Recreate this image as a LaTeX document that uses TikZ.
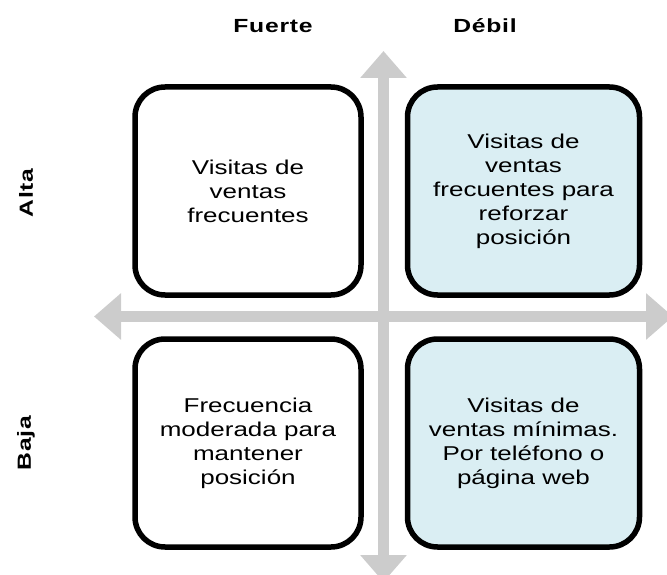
\documentclass[tikz,border=0pt]{standalone}
\usepackage{fontspec}
\setmainfont{Liberation Sans}[FakeStretch=1.3]
\usepackage{xcolor}
\usetikzlibrary{positioning,arrows.meta}
\definecolor{axisgray}{HTML}{CCCCCC}
\definecolor{quadblue}{HTML}{DAEEF3}

\begin{document}
\begin{tikzpicture}[
    x=1pt, y=-1pt,
    font=\fontsize{20}{24}\selectfont,
    quad/.style={
      draw=black, line width=5.5pt, rounded corners=30pt, align=center,
      minimum width=226pt, minimum height=208pt, inner sep=4pt
    },
    weak/.style={quad, fill=quadblue, minimum width=232pt},
    head/.style={font=\fontsize{19}{22}\selectfont\bfseries\addfontfeature{LetterSpace=4}},
    side/.style={head, rotate=90},
    axis/.style={axisgray, line width=11pt,
      {Triangle[length=27pt,width=45pt]}-{Triangle[length=27pt,width=45pt]}}
  ]
    \useasboundingbox (0,0) rectangle (667,575);
    % axes
    \coordinate (top) at (383.5,51);
    \coordinate (bottom) at (383.5,582);
    \coordinate (left) at (94,316.5);
    \coordinate (right) at (673,316.5);
    \draw[axis] (top) -- (bottom);
    \draw[axis] (left) -- (right);
    % quadrants
    \node[quad] (altafuerte) at (248,191) {Visitas de\\ventas\\frecuentes};
    \node[weak] (altadebil) at (523.5,191) {Visitas de\\ventas\\frecuentes para\\reforzar\\posición};
    \node[quad] (bajafuerte) at (248,443) {Frecuencia\\moderada para\\mantener\\posición};
    \node[weak] (bajadebil) at (523.5,443) {Visitas de\\ventas mínimas.\\Por teléfono o\\página web};
    % labels
    \node[head, anchor=base] (fuerte) at (273,33) {Fuerte};
    \node[head, anchor=base] (debil) at (485,33) {Débil};
    \node[side] (alta) at (26,193) {Alta};
    \node[side] (baja) at (26,443) {Baja};
  \end{tikzpicture}
\end{document}
